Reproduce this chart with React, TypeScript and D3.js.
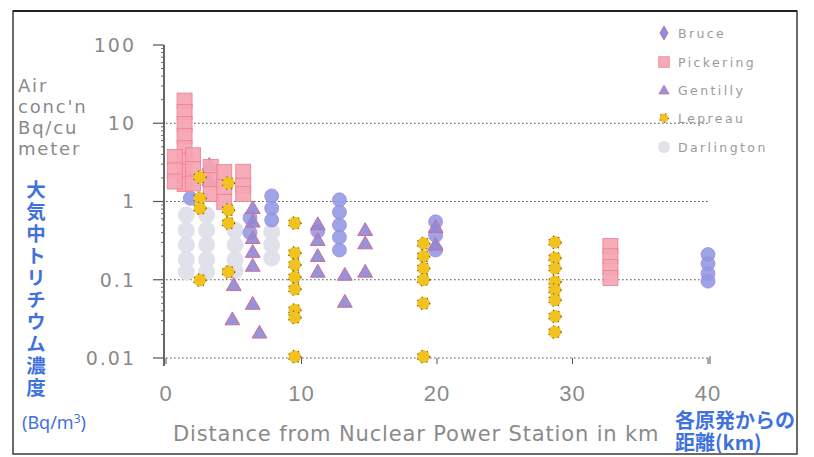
import React from "react";
import * as d3 from "d3";

// Tritium air concentration (Bq/m³) against distance (km) from each station
const bruce: [number, number][] = [
  [1.8, 1.1], [7.8, 1.18], [7.8, 0.82], [7.8, 0.58],
  [12.8, 1.05], [12.8, 0.73], [12.8, 0.5], [12.8, 0.35], [12.8, 0.24],
  [11.2, 0.42], [6.2, 0.62], [6.2, 0.4],
  [19.9, 0.55], [19.9, 0.37], [19.9, 0.24],
  [40, 0.21], [40, 0.16], [40, 0.12], [40, 0.096],
];
const pickering: [number, number][] = [
  [1.37, 19.5], [1.37, 13.9], [1.37, 9.8], [1.37, 6.9], [1.37, 4.8], [1.37, 3.4], [1.37, 2.4], [1.37, 1.67],
  [0.65, 3.7], [0.65, 2.5], [0.65, 1.8],
  [2.0, 3.9], [2.0, 2.6], [2.0, 1.7],
  [3.3, 2.76], [3.3, 1.88], [3.3, 1.25],
  [4.3, 2.38], [4.3, 1.53], [4.3, 0.99],
  [5.7, 2.4], [5.7, 1.6], [5.7, 1.25],
  [32.8, 0.27], [32.8, 0.2], [32.8, 0.145], [32.8, 0.105],
];
const gentilly: [number, number][] = [
  [3.2, 2.93], [3.2, 1.88],
  [6.4, 0.82], [6.4, 0.55], [6.4, 0.34], [6.4, 0.226], [6.4, 0.15], [6.4, 0.049],
  [4.9, 0.031], [6.9, 0.021], [5.0, 0.085],
  [11.2, 0.51], [11.2, 0.32], [11.2, 0.2], [11.2, 0.126],
  [13.2, 0.115], [13.2, 0.052],
  [14.7, 0.43], [14.7, 0.29], [14.7, 0.126],
  [19.9, 0.47], [19.9, 0.28],
];
const lepreau: [number, number][] = [
  [2.5, 2.05], [2.5, 1.1], [2.5, 0.82], [2.5, 0.099],
  [4.6, 1.72], [4.6, 0.78], [4.6, 0.53], [4.6, 0.126],
  [9.5, 0.53], [9.5, 0.22], [9.5, 0.155], [9.5, 0.108], [9.5, 0.076], [9.5, 0.041], [9.5, 0.033], [9.5, 0.0104],
  [19.0, 0.29], [19.0, 0.2], [19.0, 0.14], [19.0, 0.1], [19.0, 0.05], [19.0, 0.0104],
  [28.7, 0.3], [28.7, 0.19], [28.7, 0.14], [28.7, 0.094], [28.7, 0.074], [28.7, 0.055], [28.7, 0.034], [28.7, 0.0215],
];
const darlington: [number, number][] = [
  [1.5, 0.67], [1.5, 0.43], [1.5, 0.28], [1.5, 0.18], [1.5, 0.126],
  [3.0, 0.67], [3.0, 0.43], [3.0, 0.28], [3.0, 0.18], [3.0, 0.126],
  [5.1, 0.43], [5.1, 0.28], [5.1, 0.18], [5.1, 0.13],
  [7.8, 0.41], [7.8, 0.28], [7.8, 0.19],
];

const yTicks = [100, 10, 1, 0.1, 0.01];
const yTickLabels = ["100", "10", "1", "0.1", "0.01"];
const xTicks = [0, 10, 20, 30, 40];
const gridValues = [10, 1, 0.1, 0.01];
const seriesNames = ["Bruce", "Pickering", "Gentilly", "Lepreau", "Darlington"];
const yTitleLines = ["Air", "conc'n", "Bq/cu", "meter"];
const jpYTitle = "大気中トリチウム濃度";
const jpXTitle = ["各原発からの", "距離(km)"];

const x = d3.scaleLinear().domain([0, 40]).range([166, 708]);
const y = d3.scaleLog().domain([0.01, 100]).range([358, 45]);

const grey = "#8a8a8a";
const blue = "#3f72dc";

const tri = d3.symbol().type(d3.symbolTriangle).size(95)() as string;
const diamond = d3.symbol().type(d3.symbolDiamond).size(70)() as string;

function Marker({ kind, cx, cy, legend = false }: { kind: string; cx: number; cy: number; legend?: boolean }) {
  const s = legend ? 0.7 : 1;
  switch (kind) {
    case "Bruce":
      return legend ? (
        <path d={diamond} transform={`translate(${cx},${cy}) scale(0.9)`} fill="#8290e2" stroke="#d66a9a" strokeWidth={1} />
      ) : (
        <circle cx={cx} cy={cy} r={7} fill="#8e98e4" fillOpacity={0.88} stroke="#a98ad8" strokeWidth={0.8} />
      );
    case "Pickering": {
      const h = 7.5 * s;
      return <rect x={cx - h} y={cy - h} width={2 * h} height={2 * h} fill="#f5a4b2" stroke="#ee7f94" strokeWidth={0.8} fillOpacity={0.92} />;
    }
    case "Gentilly":
      return <path d={tri} transform={`translate(${cx},${cy + 1}) scale(${s})`} fill="#8d8ad8" stroke="#cf6d96" strokeWidth={1} fillOpacity={0.92} />;
    case "Lepreau":
      return (
        <circle cx={cx} cy={cy} r={6.3 * s} fill="#f2c320" stroke="#6d5a1a" strokeWidth={1.2} strokeDasharray="1.2 4.2" />
      );
    default:
      return <circle cx={cx} cy={cy} r={8.5 * s} fill="#dedfe9" fillOpacity={0.95} />;
  }
}

function Series({ name, data }: { name: string; data: [number, number][] }) {
  return (
    <g>
      {data.map(([km, c], i) => (
        <Marker key={i} kind={name} cx={x(km)} cy={y(c)} />
      ))}
    </g>
  );
}

export default function App() {
  const minor: number[] = [];
  for (let e = -2; e < 2; e++) for (let m = 2; m < 10; m++) minor.push(m * Math.pow(10, e));
  const legendY = [33, 62, 90, 118, 147];

  return (
    <svg width={814} height={457} style={{ position: "absolute", left: 0, top: 0, background: "#fff" }}
      fontFamily="'DejaVu Sans', sans-serif">
      <rect x={0} y={0} width={814} height={457} fill="#fff" />
      {/* frame */}
      <rect x={13} y={11} width={784} height={443} fill="none" stroke="#3a3a3a" strokeWidth={1.5} />
      <line x1={13} x2={797} y1={11} y2={11} stroke="#222" strokeWidth={2.2} />

      {/* gridlines */}
      {gridValues.map((v) => (
        <line key={v} x1={x(0)} x2={710} y1={y(v)} y2={y(v)} stroke="#555" strokeWidth={1.1} strokeDasharray="1.6 2.4" />
      ))}
      <line x1={710} x2={710} y1={y(0.01) - 2} y2={y(0.01) + 6} stroke="#555" strokeWidth={1} />

      {/* y axis */}
      <line x1={164} x2={164} y1={45} y2={366} stroke="#333" strokeWidth={1.5} />
      {yTicks.map((v) => (
        <line key={v} x1={153} x2={164} y1={y(v)} y2={y(v)} stroke="#555" strokeWidth={1.2} />
      ))}
      {minor.map((v) => (
        <line key={v} x1={161} x2={164} y1={y(v)} y2={y(v)} stroke="#666" strokeWidth={1} />
      ))}
      {yTicks.map((v, i) => (
        <text key={v} x={136} y={y(v)} dy="0.36em" textAnchor="end" fontSize={19} fill={grey} letterSpacing={2}>
          {yTickLabels[i]}
        </text>
      ))}

      {/* x axis ticks and labels */}
      {xTicks.map((v) => (
        <line key={v} x1={x(v)} x2={x(v)} y1={358} y2={364} stroke="#555" strokeWidth={1} />
      ))}
      {xTicks.map((v) => (
        <text key={v} x={x(v)} y={393} dy="0.36em" textAnchor="middle" fontSize={22}
          fontFamily="'Liberation Sans', Arial, sans-serif" fill={grey} letterSpacing={1}>
          {v}
        </text>
      ))}

      {/* data */}
      <Series name="Darlington" data={darlington} />
      <Series name="Bruce" data={bruce} />
      <Series name="Gentilly" data={gentilly} />
      <Series name="Pickering" data={pickering} />
      <Series name="Lepreau" data={lepreau} />

      {/* titles */}
      {yTitleLines.map((t, i) => (
        <text key={t} x={18} y={86 + i * 20.7} dy="0.36em" fontSize={18} fill={grey} letterSpacing={1.8}>
          {t}
        </text>
      ))}
      <text x={36} y={180} fontSize={19.5} fontWeight="bold" fill={blue}
        fontFamily="'Noto Sans CJK JP', sans-serif"
        style={{ writingMode: "vertical-rl", letterSpacing: "2.5px" }}>
        {jpYTitle}
      </text>
      <text x={22} y={423} dy="0.36em" fontSize={18} fill={blue} fontFamily="'Noto Sans', sans-serif">
        (Bq/m<tspan fontSize={12} dy="-0.5em">3</tspan><tspan dy="0.3em">)</tspan>
      </text>
      <text x={173} y={433} dy="0.36em" fontSize={21} fill={grey} letterSpacing={0.85}>
        Distance from Nuclear Power Station in km
      </text>
      <text fontSize={20} fontWeight="bold" fill={blue} fontFamily="'Noto Sans CJK JP', sans-serif">
        <tspan x={675} y={428}>{jpXTitle[0]}</tspan>
        <tspan x={675} y={450}>{jpXTitle[1]}</tspan>
      </text>

      {/* legend */}
      {seriesNames.map((n, i) => (
        <g key={n}>
          <Marker kind={n} cx={664} cy={legendY[i]} legend />
          <text x={678} y={legendY[i]} dy="0.36em" fontSize={12.5} fill="#9a9a9a" letterSpacing={2.4}>
            {n}
          </text>
        </g>
      ))}
    </svg>
  );
}
